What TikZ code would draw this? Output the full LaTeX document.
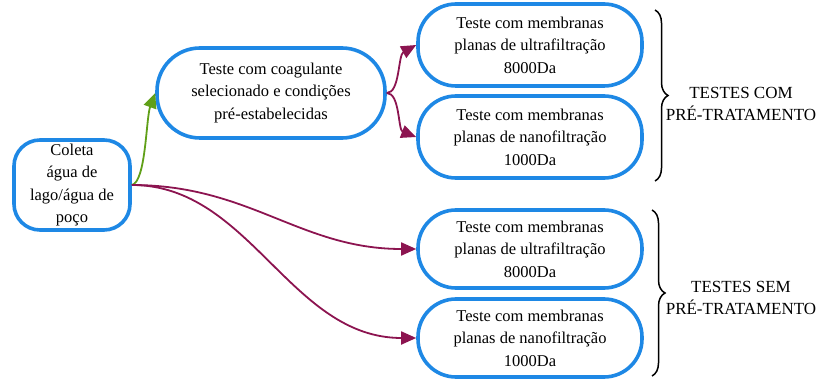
\documentclass[tikz,border=0pt]{standalone}
\usepackage{fontspec}
\setmainfont{Liberation Serif}
\usetikzlibrary{arrows.meta,decorations.pathreplacing}
\definecolor{boxblue}{RGB}{30,136,229}
\definecolor{arrgreen}{RGB}{96,160,24}
\definecolor{arrpurple}{RGB}{140,20,80}
\begin{document}
\begin{tikzpicture}[x=1pt,y=-1pt,
  box/.style={draw=boxblue,line width=3.6pt,fill=white,align=center,inner sep=0pt,
    font=\rmfamily\fontsize{16.5}{22.5}\selectfont},
  stad/.style={box,minimum width=224pt,minimum height=82pt,rounded corners=38pt},
  conn/.style={line width=1.8pt,-{Triangle[length=15pt,width=13pt]}},
  brc/.style={draw=black,line width=1.5pt,decorate,decoration={brace,amplitude=13pt}},
  lbl/.style={align=center,font=\rmfamily\fontsize{17}{22}\selectfont}]
\useasboundingbox (0,0) rectangle (824,379);
\node[box,minimum width=116pt,minimum height=90pt,rounded corners=26pt] (coleta) at (72,185)
  {Coleta\\água de\\lago/água de\\poço};
\node[box,minimum width=228pt,minimum height=90pt,rounded corners=43pt] (coag) at (271,93)
  {Teste com coagulante\\selecionado e condições\\pré-estabelecidas};
\node[stad] (uf1) at (530,45) {Teste com membranas\\planas de ultrafiltração\\8000Da};
\node[stad] (nf1) at (530,137) {Teste com membranas\\planas de nanofiltração\\1000Da};
\node[stad,minimum height=78pt] (uf2) at (530,249) {Teste com membranas\\planas de ultrafiltração\\8000Da};
\node[stad,minimum height=78pt] (nf2) at (530,338) {Teste com membranas\\planas de nanofiltração\\1000Da};
\draw[conn,arrgreen] (coleta.east) .. controls (146,182) and (146,118) .. (coag.west);
\draw[conn,arrpurple] (coag.east) .. controls (400,93) and (398,55) .. (uf1.west);
\draw[conn,arrpurple] (coag.east) .. controls (400,93) and (398,130) .. (nf1.west);
\draw[conn,arrpurple] (coleta.east) .. controls (250,185) and (300,249) .. (uf2.west);
\draw[conn,arrpurple] (coleta.east) .. controls (250,185) and (290,338) .. (nf2.west);
\coordinate (b1t) at (655,10);
\coordinate (b1b) at (655,181);
\coordinate (b2t) at (652,210);
\coordinate (b2b) at (652,376);
\draw[brc] (b1t) -- (b1b);
\draw[brc] (b2t) -- (b2b);
\node[lbl] (l1) at (741,104) {TESTES COM\\PRÉ-TRATAMENTO};
\node[lbl] (l2) at (741,298) {TESTES SEM\\PRÉ-TRATAMENTO};
\end{tikzpicture}
\end{document}
